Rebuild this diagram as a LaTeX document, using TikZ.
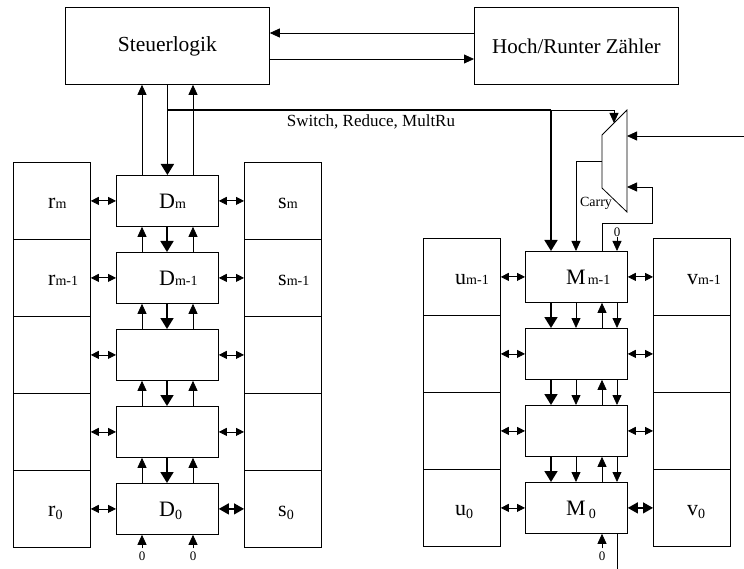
\documentclass[tikz,border=0pt]{standalone}
\usepackage{fontspec}
\setmainfont{Liberation Serif}
\usetikzlibrary{arrows.meta}
\newcommand\lsub[1]{{\fontsize{14}{14}\selectfont #1}}
\newcommand\lsubz{\raisebox{-3pt}{\fontsize{14}{14}\selectfont 0}}
\begin{document}
\begin{tikzpicture}[x=1pt,y=-1pt,
 box/.style={draw, line width=0.8pt, inner sep=0, anchor=north west},
 reg/.style={box, minimum width=77pt, minimum height=77pt},
 cell/.style={box, minimum width=102pt, minimum height=51pt},
 lbl/.style={anchor=base west, inner sep=0, font=\fontsize{22}{22}\selectfont},
 tarr/.style={line width=0.8pt, -{Triangle[length=10pt,width=9pt]}},
 karr/.style={line width=1.8pt, -{Triangle[length=11pt,width=13pt]}},
 darr/.style={line width=0.8pt, {Triangle[length=8pt,width=8pt]}-{Triangle[length=8pt,width=8pt]}},
 darrb/.style={line width=1.2pt, {Triangle[length=10pt,width=11pt]}-{Triangle[length=10pt,width=11pt]}},
 zero/.style={inner sep=0, font=\fontsize{13}{13}\selectfont},
]
\useasboundingbox (0,0) rectangle (744,569);

% top boxes
\node[box, minimum width=204pt, minimum height=77pt, font=\fontsize{21.5}{21.5}\selectfont] (ctl) at (65,7) {Steuerlogik};
\node[box, minimum width=204pt, minimum height=77pt, font=\fontsize{21}{21}\selectfont] (hz) at (474,7) {Hoch/Runter Z\"ahler};
\draw[tarr] (hz.west |- 0,33) -- (ctl.east |- 0,33);
\draw[tarr] (ctl.east |- 0,59) -- (hz.west |- 0,59);

% left column
\foreach \i in {0,...,4} {
  \pgfmathsetmacro\ty{162+77*\i}
  \node[reg] (r\i) at (13,\ty) {};
  \node[cell] (d\i) at (116,\ty+13) {};
  \node[reg] (s\i) at (244,\ty) {};
  \draw[darr] (r\i.east) -- (d\i.west);
}
\foreach \i in {0,...,3} {
  \draw[darr] (d\i.east) -- (s\i.west);
}
\draw[darrb] (d4.east) -- (s4.west);

\foreach \i/\k in {0/1,1/2,2/3,3/4} {
  \draw[tarr] ([xshift=26pt]d\k.north west) -- ([xshift=26pt]d\i.south west);
  \draw[tarr] ([xshift=77pt]d\k.north west) -- ([xshift=77pt]d\i.south west);
  \draw[karr] ([xshift=51pt]d\i.south west) -- ([xshift=51pt]d\k.north west);
}
\coordinate (ua) at ([xshift=26pt]d0.north west);
\coordinate (ub) at ([xshift=77pt]d0.north west);
\draw[tarr] (ua) -- (ua |- ctl.south);
\draw[tarr] (ub) -- (ub |- ctl.south);
\draw[karr] (ctl.south) -- (d0.north);

% left labels
\node[lbl] (lr0) at (48,208.5) {r\lsub{m}};
\node[lbl] (ld0) at (159,208.5) {D\lsub{m}};
\node[lbl] (ls0) at (278,208.5) {s\lsub{m}};
\node[lbl] (lr1) at (48,285.5) {r\lsub{m-1}};
\node[lbl] (ld1) at (159,285.5) {D\lsub{m-1}};
\node[lbl] (ls1) at (278,285.5) {s\lsub{m-1}};
\node[lbl] (lr4) at (48,516.5) {r\lsubz};
\node[lbl] (ld4) at (159,516.5) {D\lsubz};
\node[lbl] (ls4) at (278,516.5) {s\lsubz};

% bottom zeros left
\node[zero] (zl1) at (142,556) {0};
\node[zero] (zl2) at (193,556) {0};
\draw[tarr] ([yshift=3pt]zl1.north) -- (zl1.north |- d4.south);
\draw[tarr] ([yshift=3pt]zl2.north) -- (zl2.north |- d4.south);

% right column
\foreach \j in {0,...,3} {
  \pgfmathsetmacro\ty{238+77*\j}
  \node[reg] (u\j) at (423,\ty) {};
  \node[cell] (m\j) at (525,\ty+13) {};
  \node[reg] (v\j) at (653,\ty) {};
  \draw[darr] (u\j.east) -- (m\j.west);
}
\foreach \j in {0,...,2} {
  \draw[darr] (m\j.east) -- (v\j.west);
}
\draw[darrb] (m3.east) -- (v3.west);

\foreach \j/\k in {0/1,1/2,2/3} {
  \draw[karr] ([xshift=26pt]m\j.south west) -- ([xshift=26pt]m\k.north west);
  \draw[tarr] ([xshift=51pt]m\j.south west) -- ([xshift=51pt]m\k.north west);
  \draw[tarr] ([xshift=77pt]m\k.north west) -- ([xshift=77pt]m\j.south west);
  \draw[tarr] ([xshift=92pt]m\j.south west) -- ([xshift=92pt]m\k.north west);
}

% right labels
\node[lbl] (lu0) at (455,284.5) {u\lsub{m-1}};
\node[lbl] (lm0) at (566,284.5) {M\kern2pt\lsub{m-1}};
\node[lbl] (lv0) at (687,284.5) {v\lsub{m-1}};
\node[lbl] (lu3) at (455,515.5) {u\lsubz};
\node[lbl] (lm3) at (566,515.5) {M\kern3pt\lsubz};
\node[lbl] (lv3) at (687,515.5) {v\lsubz};

% switch line
\coordinate (sj) at (ctl.south |- 0,110);
\coordinate (mk) at ([xshift=26pt]m0.north west);
\draw[line width=1.8pt] (sj) -- (mk |- sj);
\draw[karr] (mk |- sj) -- (mk);
\node[inner sep=0, font=\fontsize{17}{17}\selectfont] (swl) at (371,122) {Switch, Reduce, MultRu};

% multiplexer
\coordinate (xa) at (602,135);
\coordinate (xb) at (627,110);
\coordinate (xc) at (627,212);
\coordinate (xd) at (602,188);
\draw[line width=0.8pt] (xa) -- (xb) -- (xc) -- (xd) -- cycle;
\coordinate (xtop) at (614,123);
\draw[tarr] (mk |- sj) -- (xtop |- sj) -- (xtop);
\coordinate (rin) at (745,136);
\draw[tarr] (rin) -- (xb |- rin);
\coordinate (fb) at ([xshift=77pt]m0.north west);
\draw[tarr] (fb) -- (fb |- 0,223) -- (652,223) -- (652,187) -- (xc |- 0,187);
\coordinate (co) at (602,161);
\coordinate (ci) at ([xshift=51pt]m0.north west);
\draw[tarr] (co) -- (ci |- co) -- (ci);
\node[inner sep=0, font=\fontsize{14}{14}\selectfont] (cl) at (596,203) {Carry};

% zero into M_{m-1}
\coordinate (zc) at ([xshift=92pt]m0.north west);
\node[zero] (zt) at (zc |- 0,232) {0};
\draw[tarr] (zt.south) -- (zc);

% bottom of M_0
\coordinate (bz) at ([xshift=77pt]m3.south west);
\node[zero] (zb) at (bz |- 0,556) {0};
\draw[tarr] ([yshift=3pt]zb.north) -- (bz);
\coordinate (bo) at ([xshift=92pt]m3.south west);
\draw[line width=0.8pt] (bo) -- (bo |- 0,570);
\end{tikzpicture}
\end{document}
